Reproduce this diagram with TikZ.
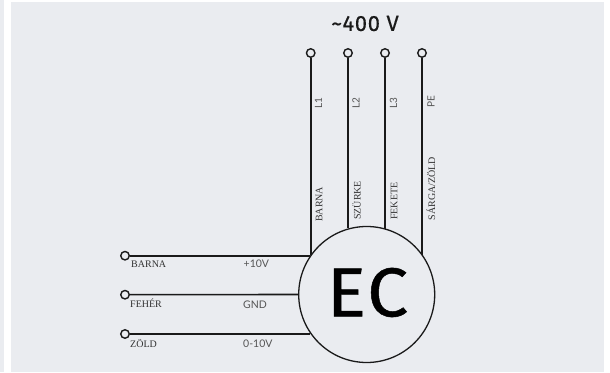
\documentclass[tikz,border=0pt]{standalone}
\usepackage{fontspec}
\setmainfont{Liberation Serif}
\newfontfamily\din[FakeBold=0.7,LetterSpace=3,FakeStretch=1.06]{Fira Sans}
\newfontfamily\dinsmall[FakeBold=0.4,LetterSpace=3]{Fira Sans}
\newfontfamily\thin{Lato}
\definecolor{bgc}{RGB}{234,236,240}
\definecolor{ink}{RGB}{26,26,26}
\definecolor{soft}{RGB}{50,50,50}
\definecolor{softer}{RGB}{85,85,85}
\tikzset{
  x=1pt,y=-1pt,
  term/.style={circle,draw=ink,line width=1.4pt,fill=bgc,inner sep=0pt,minimum size=8.5pt},
  wire/.style={draw=ink,line width=1.6pt},
  motor/.style={circle,draw=ink,line width=1.3pt,inner sep=0pt,minimum size=136pt},
  colourlab/.style={font=\fontsize{10}{10}\selectfont,text=soft,inner sep=0pt},
  phaselab/.style={font=\thin\fontsize{10}{10}\selectfont,text=softer,inner sep=0pt,rotate=90},
  signallab/.style={font=\thin\fontsize{10.5}{10.5}\selectfont,text=softer,inner sep=0pt,anchor=west},
}
\begin{document}
\begin{tikzpicture}
\useasboundingbox (0,0) rectangle (610,372);
\fill[bgc] (0,0) rectangle (4,372);
\fill[bgc] (11,2) rectangle (604,372);
\node[motor] (ec) at (366.7,294.5) {};
\node[font=\din\fontsize{69}{69}\selectfont,text=black,inner sep=0pt] (ectext) at (367.5,292.5) {EC};
\node[font=\dinsmall\fontsize{22}{22}\selectfont,text=ink,inner sep=0pt] (volt) at (365,23.5) {\textasciitilde 400 V};
\node[term] (t1) at (310.7,53) {};
\node[term] (t2) at (348,53) {};
\node[term] (t3) at (385,53) {};
\node[term] (t4) at (422,53) {};
\node[term] (s1) at (125,255.7) {};
\node[term] (s2) at (125,294.7) {};
\node[term] (s3) at (125,334) {};
\draw[wire] (t1) -- (t1 |- ec.145.4);
\draw[wire] (t2) -- (t2 |- ec.105.95);
\draw[wire] (t3) -- (t3 |- ec.74.4);
\draw[wire] (t4) -- (t4 |- ec.35.6);
\draw[wire] (s1) -- (s1 -| ec.145.2);
\draw[wire] (s2) -- (ec.180);
\draw[wire] (s3) -- (s3 -| ec.215.5);
\node[phaselab] (l1) at (318.5,103) {L1};
\node[phaselab] (l2) at (356,103) {L2};
\node[phaselab] (l3) at (393.5,103) {L3};
\node[phaselab] (pe) at (431,102) {PE};
\node[colourlab,rotate=90,anchor=west] (c1) at (319,222) {BARNA};
\node[colourlab,rotate=90,anchor=west] (c2) at (356.5,220) {SZÜRKE};
\node[colourlab,rotate=90,anchor=west] (c3) at (394,220) {FEKETE};
\node[colourlab,rotate=90,anchor=west] (c4) at (431,220.5) {SÁRGA/ZÖLD};
\node[colourlab,anchor=west] (b1) at (131,264) {BARNA};
\node[colourlab,anchor=west] (b2) at (130,303.5) {FEHÉR};
\node[colourlab,anchor=west] (b3) at (130,343.5) {ZÖLD};
\node[signallab] (v1) at (243.5,264) {+10V};
\node[signallab] (v2) at (243,304.5) {GND};
\node[signallab] (v3) at (243,344) {0-10V};
\end{tikzpicture}
\end{document}
